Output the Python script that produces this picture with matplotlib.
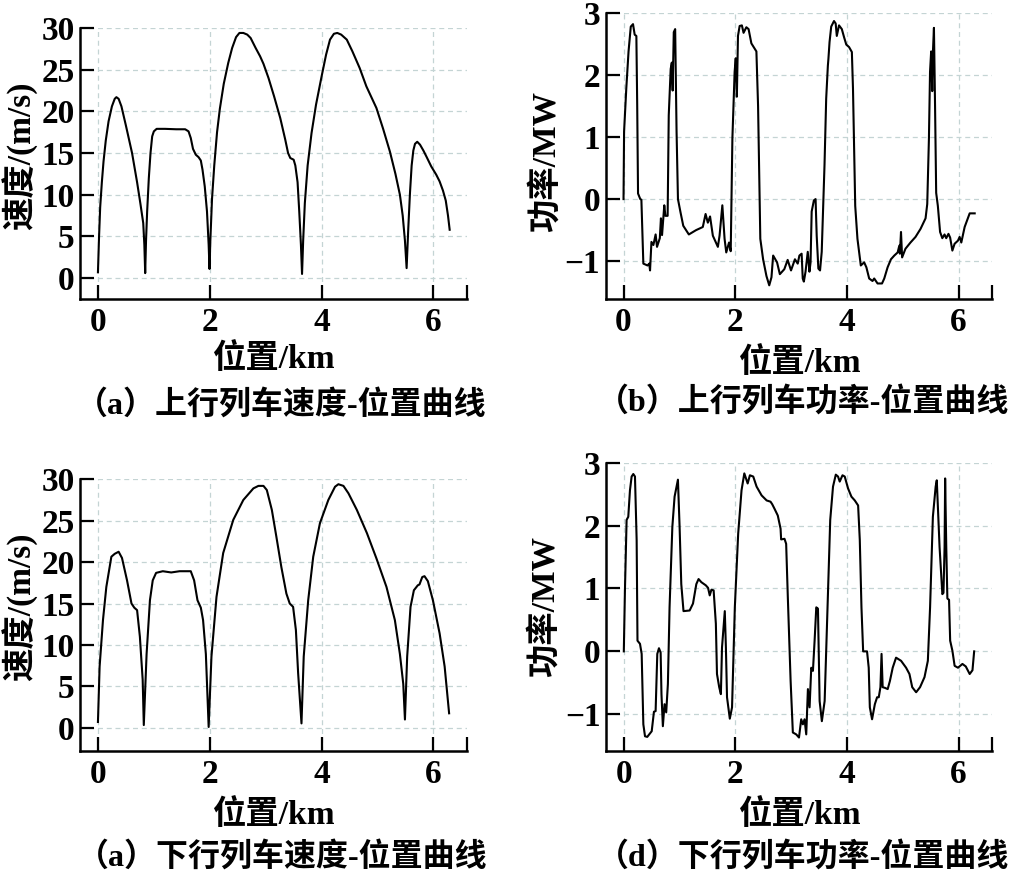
#!/usr/bin/env python3
"""
上行/下行列车速度、功率-位置曲线 (four panels)
"""

import matplotlib
matplotlib.use('Agg')
import matplotlib.pyplot as plt

plt.rcParams['font.family'] = ['Liberation Serif', 'Noto Sans CJK SC', 'DejaVu Sans']
plt.rcParams['axes.unicode_minus'] = True

# ---- 上行 速度 (km, m/s) ----
up_speed_x = [0.00, 0.02, 0.04, 0.07, 0.10, 0.14, 0.19, 0.25, 0.30, 0.33, 0.37, 0.42,
              0.50, 0.61, 0.70, 0.76, 0.81, 0.83, 0.845, 0.86, 0.88, 0.91, 0.94, 0.97,
              1.00, 1.05, 1.20, 1.40, 1.56, 1.62, 1.66, 1.70, 1.75, 1.80, 1.84, 1.87,
              1.91, 1.95, 1.98, 1.995, 2.01, 2.04, 2.08, 2.13, 2.18, 2.25, 2.33, 2.40,
              2.47, 2.53, 2.60, 2.67, 2.73, 2.82, 2.90, 2.96, 3.05, 3.15, 3.26, 3.35,
              3.40, 3.44, 3.50, 3.53, 3.57, 3.60, 3.63, 3.65, 3.67, 3.70, 3.75, 3.82,
              3.90, 4.00, 4.08, 4.15, 4.22, 4.28, 4.35, 4.45, 4.55, 4.68, 4.80, 4.98,
              5.10, 5.22, 5.32, 5.40, 5.45, 5.49, 5.52, 5.55, 5.58, 5.61, 5.64, 5.67,
              5.71, 5.76, 5.82, 5.88, 5.96, 6.05, 6.11, 6.17, 6.22, 6.26, 6.29]
up_speed_v = [0.7, 5.0, 8.5, 11.5, 14.0, 16.5, 18.8, 20.6, 21.5, 21.7, 21.5, 20.6,
              18.3, 15.0, 11.5, 8.9, 6.6, 4.0, 0.6, 4.5, 8.0, 12.0, 15.0, 17.0,
              17.6, 17.9, 17.9, 17.85, 17.85, 17.6, 16.8, 15.5, 14.8, 14.5, 14.1, 13.0,
              11.0, 8.0, 4.0, 1.1, 4.5, 9.5, 13.5, 17.5, 20.3, 23.3, 25.8, 27.6,
              28.9, 29.4, 29.4, 29.2, 28.8, 27.6, 26.6, 25.7, 24.0, 21.8, 19.2, 16.6,
              15.0, 14.4, 14.2, 13.5, 11.5, 8.0, 4.0, 0.5, 4.5, 9.0, 13.5, 17.4,
              20.8, 24.2, 26.8, 28.6, 29.3, 29.4, 29.2, 28.6, 27.2, 25.2, 23.0, 20.4,
              17.9, 15.2, 12.5, 10.0, 7.5, 4.5, 1.2, 6.0, 10.2, 13.5, 15.3, 16.1,
              16.35, 16.0, 15.3, 14.5, 13.4, 12.4, 11.6, 10.5, 9.3, 7.5, 5.8]

# ---- 上行 功率 (km, MW) ----
up_power_x = [0.00, 0.01, 0.05, 0.09, 0.13, 0.17, 0.20, 0.23, 0.245, 0.26, 0.30, 0.32,
              0.355, 0.43, 0.46, 0.475, 0.50, 0.535, 0.575, 0.60, 0.65, 0.67, 0.69, 0.73,
              0.75, 0.79, 0.81, 0.845, 0.865, 0.88, 0.90, 0.925, 0.95, 0.975, 1.02, 1.07,
              1.17, 1.30, 1.42, 1.47, 1.51, 1.55, 1.60, 1.69, 1.72, 1.77, 1.81, 1.84,
              1.89, 1.92, 1.95, 1.99, 2.01, 2.03, 2.05, 2.08, 2.12, 2.15, 2.20, 2.24,
              2.29, 2.38, 2.41, 2.45, 2.50, 2.56, 2.61, 2.65, 2.68, 2.75, 2.80, 2.88,
              2.94, 3.00, 3.07, 3.12, 3.15, 3.19, 3.21, 3.23, 3.26, 3.30, 3.33, 3.35,
              3.37, 3.41, 3.44, 3.46, 3.49, 3.52, 3.55, 3.60, 3.63, 3.66, 3.67, 3.69,
              3.72, 3.77, 3.80, 3.82, 3.86, 3.91, 3.95, 3.99, 4.04, 4.09, 4.11, 4.15,
              4.19, 4.25, 4.31, 4.35, 4.40, 4.46, 4.49, 4.55, 4.63, 4.67, 4.73, 4.79,
              4.85, 4.91, 4.94, 4.95, 4.97, 4.99, 5.05, 5.14, 5.23, 5.32, 5.41, 5.44,
              5.47, 5.49, 5.51, 5.53, 5.54, 5.56, 5.58, 5.60, 5.63, 5.67, 5.71, 5.75,
              5.78, 5.82, 5.85, 5.89, 5.93, 5.99, 6.02, 6.05, 6.11, 6.20, 6.29]
up_power_p = [0.0, 1.09, 1.79, 2.38, 2.78, 2.82, 2.65, 2.63, 1.52, 0.09, 0.0, -0.01,
              -1.04, -1.07, -1.04, -1.15, -0.69, -0.74, -0.57, -0.77, -0.63, -0.31, -0.58, -0.10,
              -0.27, -0.27, 1.35, 2.10, 2.20, 1.75, 2.69, 2.74, 1.09, 0.0, -0.21, -0.43,
              -0.57, -0.50, -0.45, -0.24, -0.38, -0.28, -0.59, -0.77, -0.59, -0.10, -0.64, -0.86,
              -0.70, -0.84, 0.98, 2.05, 2.27, 1.65, 2.63, 2.79, 2.80, 2.68, 2.77, 2.74,
              2.51, 2.38, 1.50, -0.64, -0.97, -1.24, -1.39, -1.26, -0.91, -1.02, -1.21, -1.13,
              -0.98, -1.15, -0.97, -1.04, -0.91, -0.88, -1.28, -1.33, -1.17, -0.85, -1.17, -1.02,
              -0.20, -0.02, 0.0, -0.59, -1.12, -1.15, -0.85, 0.55, 1.62, 2.15, 2.26, 2.53,
              2.78, 2.87, 2.83, 2.63, 2.80, 2.74, 2.61, 2.49, 2.45, 2.37, 1.78, -0.11,
              -0.64, -1.07, -1.02, -1.10, -1.28, -1.32, -1.28, -1.36, -1.36, -1.28, -1.10, -0.97,
              -0.91, -0.86, -0.75, -0.88, -0.53, -0.94, -0.80, -0.70, -0.61, -0.48, -0.31, -0.08,
              0.97, 2.05, 2.38, 1.74, 2.33, 2.76, 1.50, 0.10, -0.11, -0.53, -0.63, -0.57,
              -0.63, -0.56, -0.62, -0.83, -0.72, -0.67, -0.61, -0.70, -0.45, -0.23, -0.23]

# ---- 下行 速度 (km, m/s) ----
down_speed_x = [0.00, 0.03, 0.09, 0.15, 0.24, 0.30, 0.37, 0.43, 0.52, 0.60, 0.65, 0.70,
                0.75, 0.80, 0.82, 0.87, 0.93, 0.98, 1.04, 1.16, 1.31, 1.46, 1.66, 1.72,
                1.78, 1.84, 1.88, 1.93, 1.98, 2.03, 2.12, 2.24, 2.42, 2.60, 2.78, 2.87,
                2.96, 3.02, 3.11, 3.19, 3.28, 3.37, 3.43, 3.49, 3.54, 3.58, 3.64, 3.68,
                3.76, 3.85, 3.97, 4.12, 4.24, 4.30, 4.39, 4.48, 4.63, 4.81, 4.98, 5.16,
                5.31, 5.40, 5.46, 5.49, 5.53, 5.59, 5.65, 5.72, 5.75, 5.80, 5.84, 5.90,
                5.99, 6.11, 6.20, 6.28]
down_speed_v = [0.7, 7.4, 13.0, 17.0, 20.65, 21.0, 21.25, 20.5, 17.8, 15.0, 14.5, 14.2,
                11.0, 5.8, 0.33, 8.9, 15.4, 17.8, 18.7, 18.9, 18.75, 18.9, 18.9, 17.8,
                15.4, 14.5, 13.0, 8.9, 0.1, 8.6, 15.8, 21.1, 25.1, 27.5, 28.9, 29.2,
                29.2, 28.7, 26.3, 23.1, 19.4, 16.2, 15.0, 14.6, 11.8, 6.6, 0.53, 8.6,
                15.4, 20.65, 24.7, 27.5, 29.1, 29.4, 29.2, 28.3, 26.3, 23.5, 20.45, 17.0,
                13.0, 8.9, 5.3, 1.0, 8.6, 14.6, 16.6, 17.2, 17.3, 18.2, 18.3, 17.7,
                15.4, 11.4, 7.4, 1.75]

# ---- 下行 功率 (km, MW) ----
down_power_x = [0.00, 0.02, 0.05, 0.08, 0.11, 0.14, 0.17, 0.20, 0.23, 0.245, 0.29, 0.32,
                0.35, 0.38, 0.42, 0.50, 0.54, 0.57, 0.60, 0.63, 0.66, 0.675, 0.70, 0.73,
                0.76, 0.79, 0.82, 0.87, 0.91, 0.97, 1.00, 1.03, 1.07, 1.18, 1.24, 1.30,
                1.34, 1.39, 1.47, 1.51, 1.54, 1.57, 1.61, 1.65, 1.67, 1.71, 1.74, 1.76,
                1.81, 1.83, 1.85, 1.90, 1.94, 1.99, 2.05, 2.11, 2.16, 2.22, 2.26, 2.32,
                2.38, 2.47, 2.56, 2.63, 2.66, 2.70, 2.76, 2.81, 2.82, 2.88, 2.91, 2.94,
                2.99, 3.03, 3.09, 3.14, 3.18, 3.21, 3.24, 3.27, 3.30, 3.33, 3.36, 3.39,
                3.42, 3.45, 3.48, 3.51, 3.55, 3.60, 3.66, 3.70, 3.75, 3.80, 3.84, 3.87,
                3.92, 3.96, 4.02, 4.08, 4.14, 4.20, 4.23, 4.26, 4.29, 4.36, 4.39, 4.41,
                4.45, 4.50, 4.54, 4.57, 4.60, 4.62, 4.64, 4.68, 4.73, 4.77, 4.82, 4.88,
                4.97, 5.06, 5.12, 5.17, 5.24, 5.31, 5.39, 5.45, 5.49, 5.54, 5.59, 5.61,
                5.66, 5.71, 5.73, 5.75, 5.76, 5.78, 5.80, 5.83, 5.85, 5.89, 5.93, 5.99,
                6.07, 6.13, 6.20, 6.25, 6.28]
down_power_p = [0.0, 0.97, 2.09, 2.14, 2.56, 2.78, 2.82, 2.78, 1.77, 0.17, 0.12, -0.04,
                -1.16, -1.35, -1.36, -1.27, -0.96, -0.95, -0.04, 0.05, -0.02, -0.68, -1.19, -0.84,
                -0.97, -0.52, 0.70, 1.98, 2.46, 2.73, 1.98, 1.07, 0.64, 0.65, 0.76, 1.07,
                1.15, 1.10, 1.05, 1.01, 0.89, 0.98, 0.97, 0.44, -0.36, -0.57, -0.68, 0.06,
                0.64, 0.06, -0.73, -1.07, -0.89, 0.70, 1.87, 2.56, 2.83, 2.67, 2.80, 2.78,
                2.62, 2.48, 2.40, 2.38, 2.34, 2.27, 2.16, 1.95, 1.78, 1.79, 1.71, 0.86,
                -0.47, -1.29, -1.32, -1.37, -1.08, -1.16, -1.08, -1.32, -0.60, -0.89, -0.26, -0.31,
                0.17, 0.70, 0.68, -0.79, -1.11, -0.79, 0.97, 2.09, 2.62, 2.81, 2.78, 2.70,
                2.80, 2.78, 2.59, 2.46, 2.40, 2.32, 1.77, 0.70, 0.0, 0.0, -0.26, -0.89,
                -1.08, -0.84, -0.73, -0.73, -0.57, -0.04, -0.57, -0.58, -0.60, -0.47, -0.26, -0.10,
                -0.15, -0.26, -0.36, -0.57, -0.65, -0.57, -0.41, -0.15, 0.70, 2.14, 2.62, 2.72,
                1.66, 0.91, 0.93, 1.66, 2.75, 1.66, 0.84, 0.82, 0.17, 0.01, -0.23, -0.26,
                -0.20, -0.24, -0.36, -0.30, 0.0]

speed_ticks = [0, 5, 10, 15, 20, 25, 30]
power_ticks = [-1, 0, 1, 2, 3]
x_ticks = [0, 2, 4, 6]

GRID_COLOR = '#c4d4d4'


def style_axes(ax, ylim, yticks, ylabel, ylab_xy, xlab_y):
    """Left/bottom spines, inward ticks, dashed grid, bold serif ticks."""
    ax.set_xlim(-0.32, 6.6)
    ax.set_ylim(*ylim)
    ax.set_xticks(x_ticks)
    ax.set_xticks([6.6], minor=True)
    ax.set_yticks(yticks)
    for side in ('top', 'right'):
        ax.spines[side].set_visible(False)
    for side in ('left', 'bottom'):
        ax.spines[side].set_linewidth(1.8)
    ax.tick_params(axis='both', which='both', direction='in', length=10, width=1.6,
                   labelsize=24)
    ax.tick_params(axis='y', pad=4)
    ax.tick_params(axis='x', pad=6)
    for lab in ax.get_xticklabels() + ax.get_yticklabels():
        lab.set_fontweight('bold')
    ax.grid(True, color=GRID_COLOR, linestyle=(0, (4, 3)), linewidth=0.9)
    ax.set_axisbelow(True)
    # label coords: x = right edge of the rotated y label, y = top of the x label
    ax.set_ylabel(ylabel, fontsize=24, fontweight='bold')
    ax.yaxis.set_label_coords(*ylab_xy)
    ax.set_xlabel('位置/km', fontsize=24, fontweight='bold')
    ax.xaxis.set_label_coords(0.5, xlab_y)


fig = plt.figure(figsize=(10.21, 8.76), dpi=100)

ax_a = fig.add_axes([0.0784, 0.6587, 0.379, 0.3094])
ax_b = fig.add_axes([0.5932, 0.6587, 0.3784, 0.3265])
ax_c = fig.add_axes([0.0784, 0.1427, 0.379, 0.3102])
ax_d = fig.add_axes([0.5935, 0.1430, 0.3781, 0.3288])

ax_a.plot(up_speed_x, up_speed_v, color='black', linewidth=1.5)
ax_b.plot(up_power_x, up_power_p, color='black', linewidth=1.5)
ax_c.plot(down_speed_x, down_speed_v, color='black', linewidth=1.5)
ax_d.plot(down_power_x, down_power_p, color='black', linewidth=1.5)

style_axes(ax_a, (-2.5, 30), speed_ticks, '速度/(m/s)', (-0.108, 0.53), -0.163)
style_axes(ax_b, (-1.61, 3), power_ticks, '功率/MW', (-0.115, 0.48), -0.167)
style_axes(ax_c, (-2.8, 30), speed_ticks, '速度/(m/s)', (-0.108, 0.53), -0.176)
style_axes(ax_d, (-1.58, 3), power_ticks, '功率/MW', (-0.117, 0.5), -0.167)

captions = [
    (281 / 1021, 1 - 405 / 876, '（a）上行列车速度-位置曲线'),
    (803 / 1021, 1 - 402 / 876, '（b）上行列车功率-位置曲线'),
    (282 / 1021, 1 - 857 / 876, '（a）下行列车速度-位置曲线'),
    (803 / 1021, 1 - 857 / 876, '（d）下行列车功率-位置曲线'),
]
for cx, cy, text in captions:
    fig.text(cx, cy, text, ha='center', va='center', fontsize=23, fontweight=600)

fig.savefig('out.png', dpi=100)
plt.close(fig)
